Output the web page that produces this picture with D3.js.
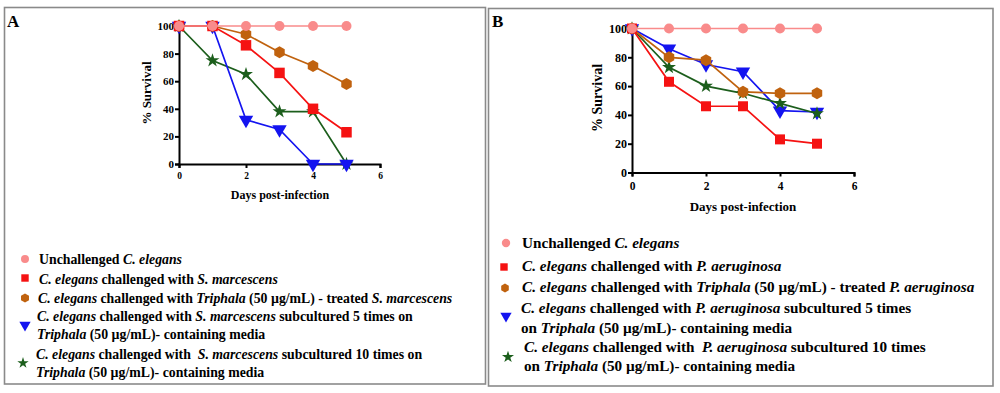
<!DOCTYPE html>
<html>
<head>
<meta charset="utf-8">
<script src="https://cdn.jsdelivr.net/npm/d3@7"></script>
<style>
  html, body { margin: 0; padding: 0; background: #fff; }
  svg text { font-family: "Liberation Serif", "DejaVu Serif", "Times New Roman", serif !important; font-weight: bold; }
</style>
</head>
<body>
<svg id="chart" width="1000" height="393"></svg>
<script>
// ---------- DATA ----------
const days = [0, 1, 2, 3, 4, 5];
const xTicks = [0, 2, 4, 6];
const yTicks = [0, 20, 40, 60, 80, 100];

const seriesNames = ["unchallenged", "challenged", "treated", "sub5", "sub10"];

// Panel A (S. marcescens)
const aUnchallenged = [100, 100, 100, 100, 100, 100];
const aChallenged   = [100, 100, 86, 66, 40, 23];
const aTreated      = [100, 100, 94, 81, 71, 58];
const aSub5         = [100, 100, 32, 25, 0, 0];
const aSub10        = [100, 75, 65, 38, 38, 0];

// Panel B (P. aeruginosa)
const bUnchallenged = [100, 100, 100, 100, 100, 100];
const bChallenged   = [100, 63, 46, 46, 23, 20];
const bTreated      = [100, 80, 78, 56, 55, 55];
const bSub5         = [100, 86, 75, 70, 43, 42];
const bSub10        = [100, 73, 60, 55, 48, 41];

const panelLabels = ["A", "B"];
const xAxisTitle = "Days post-infection";
const yAxisTitle = "% Survival";

const legendA = [
  [[["Unchallenged ", 0], ["C. elegans", 1]]],
  [[["C. elegans", 1], [" challenged with ", 0], ["S. marcescens", 1]]],
  [[["C. elegans", 1], [" challenged with ", 0], ["Triphala", 1], [" (50 µg/mL) - treated ", 0], ["S. marcescens", 1]]],
  [[["C. elegans", 1], [" challenged with ", 0], ["S. marcescens", 1], [" subcultured 5 times on", 0]],
   [["Triphala", 1], [" (50 µg/mL)- containing media", 0]]],
  [[["C. elegans", 1], [" challenged with  ", 0], ["S. marcescens", 1], [" subcultured 10 times on", 0]],
   [["Triphala", 1], [" (50 µg/mL)- containing media", 0]]]
];
const legendB = [
  [[["Unchallenged ", 0], ["C. elegans", 1]]],
  [[["C. elegans", 1], [" challenged with ", 0], ["P. aeruginosa", 1]]],
  [[["C. elegans", 1], [" challenged with ", 0], ["Triphala", 1], [" (50 µg/mL) - treated ", 0], ["P. aeruginosa", 1]]],
  [[["C. elegans", 1], [" challenged with ", 0], ["P. aeruginosa", 1], [" subcultured 5 times", 0]],
   [["on ", 0], ["Triphala", 1], [" (50 µg/mL)- containing media", 0]]],
  [[["C. elegans", 1], [" challenged with  ", 0], ["P. aeruginosa", 1], [" subcultured 10 times", 0]],
   [["on ", 0], ["Triphala", 1], [" (50 µg/mL)- containing media", 0]]]
];

// ---------- STYLES ----------
const colors = {
  unchallenged: "#f98b8b",
  challenged: "#f51212",
  treated: "#c0620e",
  sub5: "#1414f0",
  sub10: "#1c5e1c"
};

const hexagon = {
  draw(ctx, size) {
    const r = Math.sqrt(size / (1.5 * Math.sqrt(3)));
    for (let i = 0; i < 6; i++) {
      const a = Math.PI / 6 + i * Math.PI / 3;
      const x = r * Math.cos(a), y = r * Math.sin(a);
      if (i === 0) ctx.moveTo(x, y); else ctx.lineTo(x, y);
    }
    ctx.closePath();
  }
};
const triDown = {
  draw(ctx, size) {
    const s = Math.sqrt(size / (Math.sqrt(3) / 4));
    const h = s * Math.sqrt(3) / 2;
    ctx.moveTo(-s / 2, -h / 3);
    ctx.lineTo(s / 2, -h / 3);
    ctx.lineTo(0, 2 * h / 3);
    ctx.closePath();
  }
};
const symbolTypes = {
  unchallenged: d3.symbolCircle,
  challenged: d3.symbolSquare,
  treated: hexagon,
  sub5: triDown,
  sub10: d3.symbolStar
};

const svg = d3.select("#chart");

function border(x, y, w, h) {
  svg.append("rect").attr("x", x).attr("y", y).attr("width", w).attr("height", h)
    .attr("fill", "none").attr("stroke", "#8a8a8a").attr("stroke-width", 1.6);
}
border(4.5, 7.5, 481, 376.5);
border(488.5, 8.5, 504.5, 377.5);

function drawPanel(cfg) {
  const x = d3.scaleLinear().domain([0, 6]).range(cfg.xr);
  const y = d3.scaleLinear().domain([0, 100]).range(cfg.yr);
  const g = svg.append("g");

  svg.append("text").attr("x", cfg.letter[0]).attr("y", cfg.letter[1])
    .attr("font-size", 17).attr("fill", "#000").text(cfg.label);

  const xAxis = d3.axisBottom(x).tickValues(xTicks).tickSize(4).tickPadding(cfg.xPad).tickFormat(d3.format("d"));
  const yAxis = d3.axisLeft(y).tickValues(yTicks).tickSize(4).tickPadding(1).tickFormat(d3.format("d"));
  const gx = g.append("g").attr("transform", `translate(0,${cfg.yr[0]})`).call(xAxis);
  const gy = g.append("g").attr("transform", `translate(${cfg.xr[0]},0)`).call(yAxis);
  [gx, gy].forEach(a => {
    a.select(".domain").attr("stroke", "#000").attr("stroke-width", 2);
    a.selectAll(".tick line").attr("stroke", "#000").attr("stroke-width", 2);
    a.selectAll("text").attr("fill", "#000");
  });
  gx.selectAll("text").style("font-size", cfg.xTickFont + "px");
  gy.selectAll("text").style("font-size", cfg.yTickFont + "px");

  g.append("text").attr("x", cfg.xTitle[0]).attr("y", cfg.xTitle[1])
    .attr("text-anchor", "middle").style("font-size", cfg.titleFont + "px").text(xAxisTitle);
  g.append("text").attr("transform", `translate(${cfg.yTitle[0]},${cfg.yTitle[1]}) rotate(-90)`)
    .attr("text-anchor", "middle").attr("dy", "0.35em").style("font-size", cfg.yTitleFont + "px").text(yAxisTitle);

  const line = d3.line().x((d, i) => x(days[i])).y(d => y(d));
  cfg.order.forEach(name => {
    const vals = cfg.data[name];
    g.append("path").datum(vals).attr("d", line).attr("fill", "none")
      .attr("stroke", colors[name]).attr("stroke-width", 1.7);
    g.selectAll(null).data(vals).enter().append("path")
      .attr("transform", (d, i) => `translate(${x(days[i])},${y(d)})`)
      .attr("d", d3.symbol().type(symbolTypes[name]).size(cfg.sizes[name]))
      .attr("fill", colors[name]);
  });

  cfg.legend.forEach((entry, k) => {
    const name = seriesNames[k];
    const m = cfg.legendMarkers[k];
    svg.append("path").attr("transform", `translate(${m[0]},${m[1]})`)
      .attr("d", d3.symbol().type(symbolTypes[name]).size(cfg.legendSizes[name]))
      .attr("fill", colors[name]);
    entry.forEach((ln, j) => {
      const pos = cfg.legendLines[k][j];
      const t = svg.append("text").attr("x", pos[0]).attr("y", pos[1]).attr("dy", "0.35em")
        .style("font-size", cfg.legendFont + "px").attr("fill", "#000").attr("xml:space", "preserve");
      ln.forEach(([s, it]) => {
        t.append("tspan").style("font-style", it ? "italic" : "normal").text(s);
      });
    });
  });
}

drawPanel({
  label: panelLabels[0], letter: [7, 27],
  xr: [179, 380], yr: [164, 26],
  xTickFont: 9.5, yTickFont: 11, titleFont: 12, yTitleFont: 13, xPad: 4,
  xTitle: [280, 199], yTitle: [146, 93],
  data: { unchallenged: aUnchallenged, challenged: aChallenged, treated: aTreated, sub5: aSub5, sub10: aSub10 },
  order: ["sub10", "sub5", "treated", "challenged", "unchallenged"],
  sizes: { unchallenged: 78, challenged: 110, treated: 95, sub5: 90, sub10: 60 },
  legendSizes: { unchallenged: 50, challenged: 55, treated: 55, sub5: 55, sub10: 40 },
  legend: legendA, legendFont: 13.8,
  legendMarkers: [[25, 259], [25, 278], [25, 298], [25, 325], [23, 363]],
  legendLines: [[[39, 259]], [[39, 279]], [[38, 298]], [[37, 316], [37, 334]], [[36, 354], [36, 372]]]
});

drawPanel({
  label: panelLabels[1], letter: [492, 27],
  xr: [632, 854], yr: [172.5, 28.5],
  xTickFont: 11.5, yTickFont: 12, titleFont: 13, yTitleFont: 14, xPad: 5,
  xTitle: [743, 211], yTitle: [597, 98],
  data: { unchallenged: bUnchallenged, challenged: bChallenged, treated: bTreated, sub5: bSub5, sub10: bSub10 },
  order: ["sub5", "sub10", "treated", "challenged", "unchallenged"],
  sizes: { unchallenged: 80, challenged: 100, treated: 95, sub5: 90, sub10: 60 },
  legendSizes: { unchallenged: 55, challenged: 55, treated: 50, sub5: 55, sub10: 45 },
  legend: legendB, legendFont: 15.2,
  legendMarkers: [[506, 243], [504, 267], [505, 288], [506, 316], [508, 357]],
  legendLines: [[[522, 243]], [[522, 266]], [[522, 287]], [[521, 308], [521, 328]], [[524, 347], [524, 366]]]
});
</script>
</body>
</html>
